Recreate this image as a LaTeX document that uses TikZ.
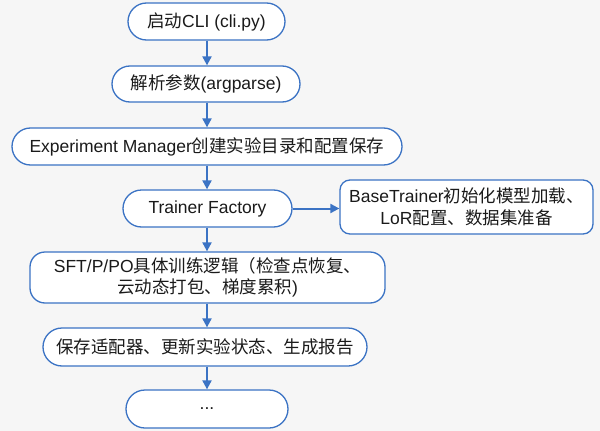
\documentclass[tikz,border=0pt]{standalone}
\usepackage{fontspec}
\setmainfont{Liberation Sans}
\newfontfamily\cjk{Noto Sans CJK SC}
\usetikzlibrary{shapes.misc,arrows.meta}
\definecolor{flowblue}{HTML}{3B73C4}
\definecolor{bgpaper}{HTML}{F6F6F6}
\definecolor{inkc}{HTML}{1A1A1A}
\tikzset{
  pill/.style={rounded rectangle, draw=flowblue, line width=1.3pt, fill=white, inner sep=0pt, text=inkc, font=\fontsize{17.5pt}{21pt}\selectfont, align=center},
  roundbox/.style={rectangle, rounded corners=#1, draw=flowblue, line width=1.3pt, fill=white, inner sep=0pt, text=inkc, font=\fontsize{17.5pt}{21.5pt}\selectfont, align=center},
  flow/.style={draw=flowblue, line width=2pt, -{Triangle[length=9pt,width=9pt]}}
}
\begin{document}
\begin{tikzpicture}[x=1pt,y=-1pt]
\fill[bgpaper] (0,0) rectangle (600,431);
\useasboundingbox (0,0) rectangle (600,431);
\node[pill, minimum width=157pt, minimum height=37pt] (b1) at (206.5,21.5) {{\cjk 启动}CLI (cli.py)};
\node[pill, minimum width=188pt, minimum height=36pt] (b2) at (206,84) {{\cjk 解析参数}(argparse)};
\node[pill, minimum width=390pt, minimum height=37pt] (b3) at (207,146.5) {Experiment Manager{\cjk 创建实验目录和配置保存}};
\node[pill, minimum width=169pt, minimum height=37pt] (b4) at (207.5,208.5) {Trainer Factory};
\node[roundbox=10pt, minimum width=253pt, minimum height=54pt] (side) at (466.5,207) {BaseTrainer{\cjk 初始化模型加载、}\\LoR{\cjk 配置、数据集准备}};
\node[roundbox=15pt, minimum width=355pt, minimum height=51pt] (b5) at (207.5,277.5) {SFT/P/PO{\cjk 具体训练逻辑（检查点恢复、}\\{\cjk 云动态打包、梯度累积})};
\node[pill, minimum width=324pt, minimum height=38pt] (b6) at (205,347) {{\cjk 保存适配器、更新实验状态、生成报告}};
\node[pill, minimum width=162pt, minimum height=38pt] (b7) at (207,409) {...};
\draw[flow] (b1.south -| 207,0) -- (b2.north -| 207,0);
\draw[flow] (b2.south -| 207,0) -- (b3.north -| 207,0);
\draw[flow] (b3.south -| 207,0) -- (b4.north -| 207,0);
\draw[flow] (b4.south -| 207,0) -- (b5.north -| 207,0);
\draw[flow] (b5.south -| 207,0) -- (b6.north -| 207,0);
\draw[flow] (b6.south -| 207,0) -- (b7.north -| 207,0);
\draw[flow] (b4.east) -- (b4.east -| side.west);
\end{tikzpicture}
\end{document}
